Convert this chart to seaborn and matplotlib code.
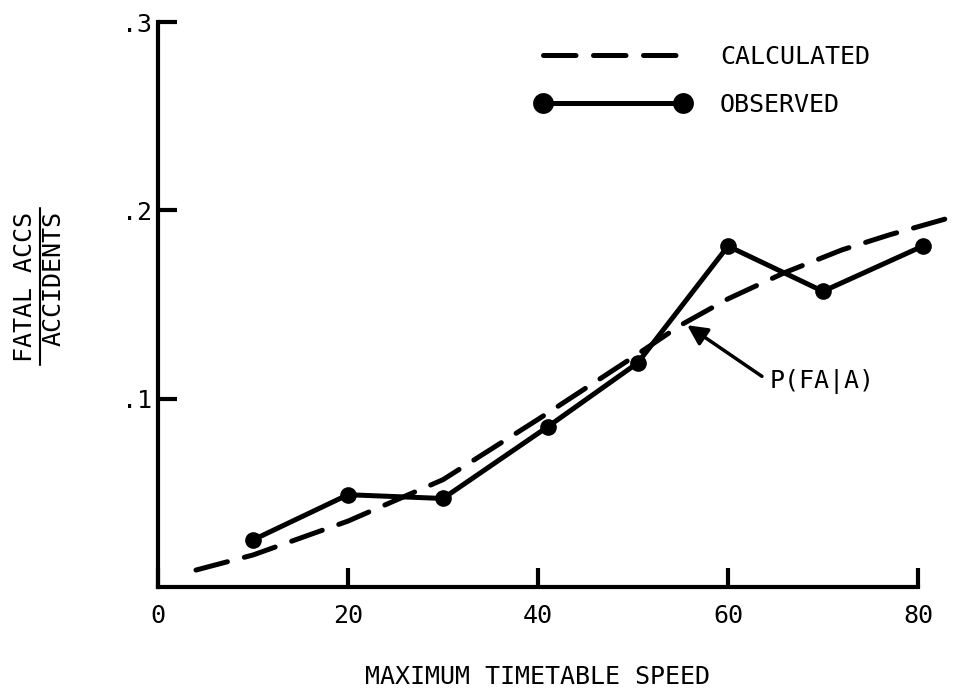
import matplotlib
matplotlib.use("Agg")
import matplotlib.pyplot as plt
import seaborn as sns
from matplotlib.lines import Line2D

# values
speed_calc = [4, 10, 20, 30, 40, 50, 55, 60, 66, 72, 77, 84]
frac_calc = [0.009, 0.017, 0.035, 0.057, 0.089, 0.122, 0.139, 0.153, 0.167, 0.179, 0.187, 0.197]

speed_obs = [10, 20, 30, 41, 50.5, 60, 70, 80.5]
frac_obs = [0.025, 0.049, 0.047, 0.085, 0.119, 0.181, 0.157, 0.181]

x_ticks = [0, 20, 40, 60, 80]
y_ticks = [0.1, 0.2, 0.3]
y_ticklabels = [".1", ".2", ".3"]

sns.set_style("ticks")
plt.rcParams["font.family"] = ["DejaVu Sans Mono", "DejaVu Sans"]
plt.rcParams["text.color"] = "black"
plt.rcParams["axes.edgecolor"] = "black"
plt.rcParams["axes.labelcolor"] = "black"
fs = 18

fig = plt.figure(figsize=(9.55, 6.93), dpi=100)
ax = fig.add_axes([158/955, 1 - 587/693, (956 - 158)/955, (587 - 22)/693])

sns.lineplot(x=speed_calc, y=frac_calc, ax=ax, color="black", lw=3.6,
             label="CALCULATED")
sns.lineplot(x=speed_obs, y=frac_obs, ax=ax, color="black", lw=3.6,
             marker="o", markersize=12, markeredgewidth=0, label="OBSERVED")
ax.lines[0].set_dashes((6.5, 3.5))
ax.lines[0].set_dash_capstyle("round")

ax.set_xlim(0, 84)
ax.set_ylim(0, 0.3)
ax.set_xticks(x_ticks)
ax.set_yticks(y_ticks)
ax.set_yticklabels(y_ticklabels)
ax.spines["right"].set_visible(False)
ax.spines["top"].set_visible(False)
ax.spines["bottom"].set_bounds(0, 80)
for s in ["left", "bottom"]:
    ax.spines[s].set_linewidth(3)
ax.tick_params(axis="both", direction="in", length=14, width=3, labelsize=fs,
               colors="black")
ax.tick_params(axis="x", pad=12)
ax.tick_params(axis="y", pad=4)

ax.set_xlabel("MAXIMUM TIMETABLE SPEED", fontsize=fs)
ax.xaxis.set_label_coords(0.475, -0.138)
ax.set_ylabel("")

# fraction-style y label
fig.text(25/955, 1 - 287/693, "FATAL ACCS", rotation=90, fontsize=fs,
         ha="center", va="center")
fig.text(54/955, 1 - 278/693, "ACCIDENTS", rotation=90, fontsize=fs,
         ha="center", va="center")
fig.add_artist(Line2D([40/955, 40/955], [1 - 365/693, 1 - 208/693],
                      transform=fig.transFigure, color="black", lw=1.5))

handles, labels = ax.get_legend_handles_labels()
ax.legend(handles, labels, numpoints=2, frameon=False, fontsize=fs,
          handlelength=6.2, handletextpad=1.2, labelspacing=0.95,
          markerscale=1.25, loc="upper left", borderpad=0, borderaxespad=0,
          bbox_to_anchor=(535/955, 1 - 45/693), bbox_transform=fig.transFigure)

ax.annotate("P(FA|A)", xy=(55.7, 0.139), xytext=(64.4, 0.109), fontsize=fs,
            ha="left", va="center",
            arrowprops=dict(arrowstyle="-|>", color="black", lw=2.5,
                            mutation_scale=30, relpos=(0, 0.5), shrinkA=4,
                            shrinkB=0))

fig.savefig("out.png", dpi=100)
